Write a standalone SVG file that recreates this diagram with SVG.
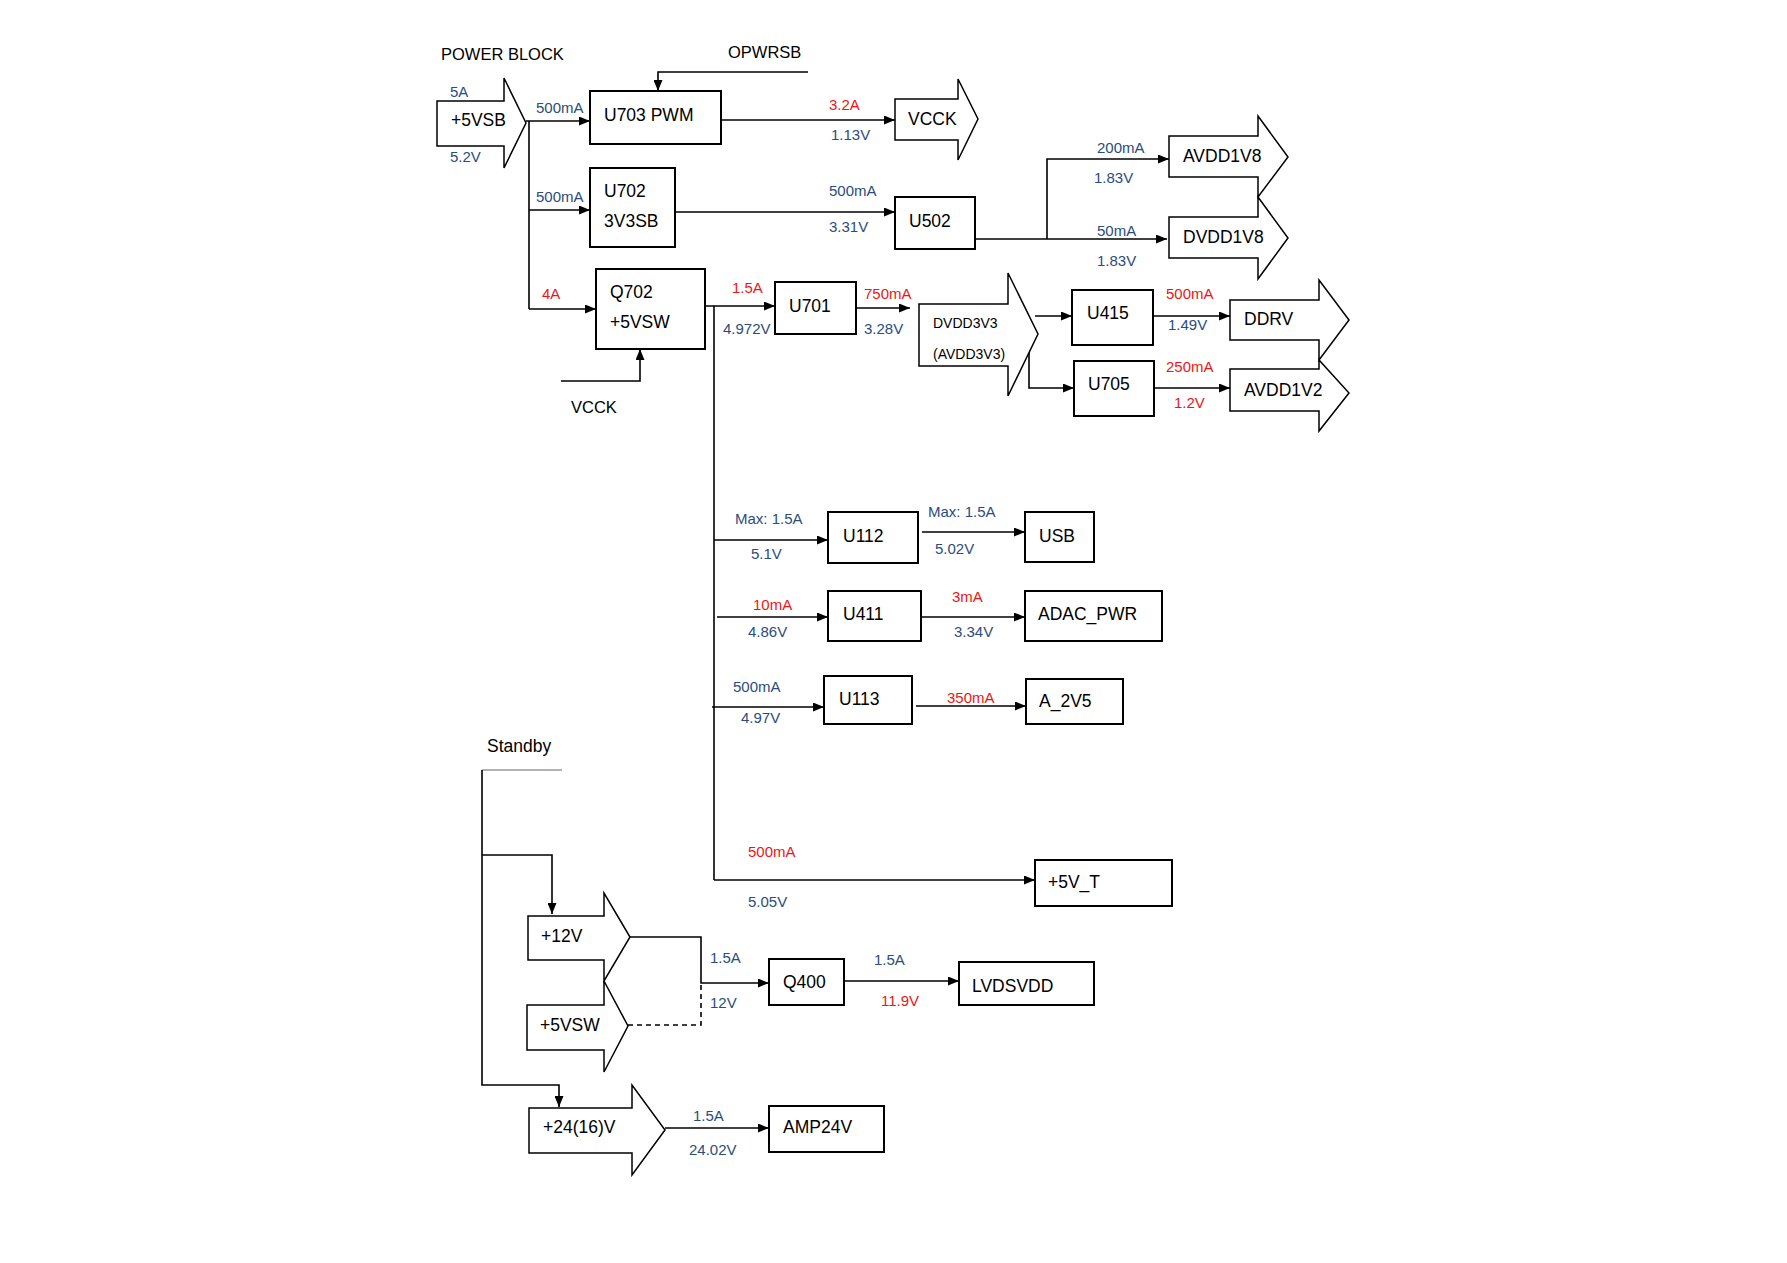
<svg xmlns="http://www.w3.org/2000/svg" width="1787" height="1263" viewBox="0 0 1787 1263">
<defs>
<marker id="ah" markerUnits="userSpaceOnUse" markerWidth="11" markerHeight="9" refX="11" refY="4.5" orient="auto"><path d="M0,0 L11,4.5 L0,9 z" fill="#000"/></marker>
<style>
.box{fill:#fff;stroke:#000;stroke-width:2}
.barrow{fill:#fff;stroke:#000;stroke-width:1.5;stroke-linejoin:miter}
.ln{fill:none;stroke:#000;stroke-width:1.6}
.arr{fill:none;stroke:#000;stroke-width:1.6;marker-end:url(#ah)}
.t{font-family:"Liberation Sans",Arial,sans-serif;font-size:17.5px;fill:#000}
.tm{font-family:"Liberation Sans",Arial,sans-serif;font-size:14px;fill:#000}
.b{font-family:"Liberation Sans",Arial,sans-serif;font-size:15px;fill:#2B4C7E}
.r{font-family:"Liberation Sans",Arial,sans-serif;font-size:15px;fill:#F01414}
</style>
</defs>
<rect width="1787" height="1263" fill="#fff"/>

<g id="titles">
<text class="t" x="441" y="60" style="font-size:16.5px">POWER BLOCK</text>
<text class="t" x="728" y="58" style="font-size:16.5px">OPWRSB</text>
<text class="t" x="571" y="413" style="font-size:16.5px">VCCK</text>
<text class="t" x="487" y="752">Standby</text>
</g>

<g id="connectors">
<polyline class="arr" points="808,72 658,72 658,91"/>
<line class="ln" x1="529" y1="121" x2="529" y2="309"/>
<line class="arr" x1="526" y1="121" x2="590" y2="121"/>
<line class="arr" x1="529" y1="210" x2="590" y2="210"/>
<line class="arr" x1="529" y1="309" x2="596" y2="309"/>
<line class="arr" x1="721" y1="120" x2="895" y2="120"/>
<line class="arr" x1="675" y1="212" x2="895" y2="212"/>
<line class="arr" x1="975" y1="239" x2="1167" y2="239"/>
<polyline class="arr" points="1047,239 1047,159 1169,159"/>
<polyline class="arr" points="561,381 640,381 640,349"/>
<line class="arr" x1="705" y1="306" x2="775" y2="306"/>
<line class="ln" x1="714" y1="306" x2="714" y2="880"/>
<line class="arr" x1="856" y1="308" x2="910" y2="308"/>
<line class="arr" x1="1035" y1="316" x2="1072" y2="316"/>
<polyline class="arr" points="1029,352 1029,388 1074,388"/>
<line class="arr" x1="1153" y1="316" x2="1230" y2="316"/>
<line class="arr" x1="1154" y1="388" x2="1230" y2="388"/>
<line class="arr" x1="714" y1="540" x2="828" y2="540"/>
<line class="arr" x1="922" y1="532" x2="1025" y2="532"/>
<line class="arr" x1="717" y1="617" x2="828" y2="617"/>
<line class="arr" x1="921" y1="617" x2="1025" y2="617"/>
<line class="arr" x1="712" y1="707" x2="824" y2="707"/>
<line class="arr" x1="916" y1="706" x2="1026" y2="706"/>
<line class="arr" x1="714" y1="880" x2="1035" y2="880"/>
<line x1="562" y1="770" x2="482" y2="770" stroke="#999" stroke-width="1.6"/>
<polyline class="arr" points="482,770 482,1085 559,1085 559,1107"/>
<polyline class="arr" points="482,855 552,855 552,914"/>
<polyline class="arr" points="630,937 701,937 701,983 769,983"/>
<polyline class="ln" points="628,1025 701,1025 701,983" stroke-dasharray="5,4"/>
<line class="arr" x1="844" y1="981" x2="959" y2="981"/>
<line class="arr" x1="665" y1="1128" x2="769" y2="1128"/>
</g>

<g id="n-5VSB"><polygon class="barrow" points="437,101 504,101 504,78 526,123 504,168 504,146 437,146"/><text class="t" x="451" y="126">+5VSB</text><text class="b" x="450" y="97">5A</text><text class="b" x="450" y="162">5.2V</text></g>
<g id="n-U703"><rect class="box" x="590" y="91" width="131" height="53"/><text class="t" x="604" y="121">U703 PWM</text><text class="b" x="536" y="113">500mA</text></g>
<g id="n-VCCK"><polygon class="barrow" points="895,99 958,99 958,79 978,119 958,160 958,140 895,140"/><text class="t" x="908" y="125">VCCK</text><text class="r" x="829" y="110">3.2A</text><text class="b" x="831" y="140">1.13V</text></g>
<g id="n-U702"><rect class="box" x="590" y="168" width="85" height="79"/><text class="t" x="604" y="197">U702</text><text class="t" x="604" y="227">3V3SB</text><text class="b" x="536" y="202">500mA</text></g>
<g id="n-U502"><rect class="box" x="895" y="197" width="80" height="52"/><text class="t" x="909" y="227">U502</text><text class="b" x="829" y="196">500mA</text><text class="b" x="829" y="232">3.31V</text></g>
<g id="n-AVDD1V8"><polygon class="barrow" points="1169,136 1258,136 1258,116 1288,157 1258,197 1258,177 1169,177"/><text class="t" x="1183" y="162">AVDD1V8</text><text class="b" x="1097" y="153">200mA</text><text class="b" x="1094" y="183">1.83V</text></g>
<g id="n-DVDD1V8"><polygon class="barrow" points="1169,217 1258,217 1258,197 1288,238 1258,279 1258,258 1169,258"/><text class="t" x="1183" y="243">DVDD1V8</text><text class="b" x="1097" y="236">50mA</text><text class="b" x="1097" y="266">1.83V</text></g>
<g id="n-Q702"><rect class="box" x="596" y="269" width="109" height="80"/><text class="t" x="610" y="298">Q702</text><text class="t" x="610" y="328">+5VSW</text><text class="r" x="542" y="299">4A</text></g>
<g id="n-U701"><rect class="box" x="775" y="282" width="81" height="52"/><text class="t" x="789" y="312">U701</text><text class="r" x="732" y="293">1.5A</text><text class="b" x="723" y="334">4.972V</text><text class="r" x="864" y="299">750mA</text><text class="b" x="864" y="334">3.28V</text></g>
<g id="n-DVDD3V3"><polygon class="barrow" points="919,304 1008,304 1008,273 1038,334 1008,396 1008,366 919,366"/><text class="tm" x="933" y="328">DVDD3V3</text><text class="tm" x="933" y="359">(AVDD3V3)</text></g>
<g id="n-U415"><rect class="box" x="1072" y="290" width="81" height="55"/><text class="t" x="1087" y="319">U415</text><text class="r" x="1166" y="299">500mA</text><text class="b" x="1168" y="330">1.49V</text></g>
<g id="n-DDRV"><polygon class="barrow" points="1230,300 1319,300 1319,280 1349,320 1319,360 1319,340 1230,340"/><text class="t" x="1244" y="325">DDRV</text></g>
<g id="n-U705"><rect class="box" x="1074" y="361" width="80" height="55"/><text class="t" x="1088" y="390">U705</text><text class="r" x="1166" y="372">250mA</text><text class="r" x="1174" y="408">1.2V</text></g>
<g id="n-AVDD1V2"><polygon class="barrow" points="1230,369 1319,369 1319,360 1349,393 1319,431 1319,411 1230,411"/><text class="t" x="1244" y="396">AVDD1V2</text></g>
<g id="n-U112"><rect class="box" x="828" y="512" width="90" height="51"/><text class="t" x="843" y="542">U112</text><text class="b" x="735" y="524">Max: 1.5A</text><text class="b" x="751" y="559">5.1V</text></g>
<g id="n-USB"><rect class="box" x="1025" y="512" width="69" height="50"/><text class="t" x="1039" y="542">USB</text><text class="b" x="928" y="517">Max: 1.5A</text><text class="b" x="935" y="554">5.02V</text></g>
<g id="n-U411"><rect class="box" x="828" y="591" width="93" height="50"/><text class="t" x="843" y="620">U411</text><text class="r" x="753" y="610">10mA</text><text class="b" x="748" y="637">4.86V</text></g>
<g id="n-ADAC_PWR"><rect class="box" x="1025" y="591" width="137" height="50"/><text class="t" x="1038" y="620">ADAC_PWR</text><text class="r" x="952" y="602">3mA</text><text class="b" x="954" y="637">3.34V</text></g>
<g id="n-U113"><rect class="box" x="824" y="676" width="88" height="48"/><text class="t" x="839" y="705">U113</text><text class="b" x="733" y="692">500mA</text><text class="b" x="741" y="723">4.97V</text></g>
<g id="n-A_2V5"><rect class="box" x="1026" y="679" width="97" height="45"/><text class="t" x="1039" y="707">A_2V5</text><text class="r" x="947" y="703">350mA</text></g>
<g id="n-5V_T"><rect class="box" x="1035" y="860" width="137" height="46"/><text class="t" x="1048" y="888">+5V_T</text><text class="r" x="748" y="857">500mA</text><text class="b" x="748" y="907">5.05V</text></g>
<g id="n-12V"><polygon class="barrow" points="528,916 604,916 604,893 630,937 604,981 604,960 528,960"/><text class="t" x="541" y="942">+12V</text></g>
<g id="n-5VSW"><polygon class="barrow" points="527,1005 604,1005 604,981 628,1026 604,1072 604,1050 527,1050"/><text class="t" x="540" y="1031">+5VSW</text></g>
<g id="n-Q400"><rect class="box" x="769" y="959" width="75" height="46"/><text class="t" x="783" y="988">Q400</text><text class="b" x="710" y="963">1.5A</text><text class="b" x="710" y="1008">12V</text></g>
<g id="n-LVDSVDD"><rect class="box" x="959" y="962" width="135" height="43"/><text class="t" x="972" y="992">LVDSVDD</text><text class="b" x="874" y="965">1.5A</text><text class="r" x="881" y="1006">11.9V</text></g>
<g id="n-24V"><polygon class="barrow" points="529,1108 632,1108 632,1085 665,1130 632,1175 632,1153 529,1153"/><text class="t" x="543" y="1133">+24(16)V</text></g>
<g id="n-AMP24V"><rect class="box" x="769" y="1106" width="115" height="46"/><text class="t" x="783" y="1133">AMP24V</text><text class="b" x="693" y="1121">1.5A</text><text class="b" x="689" y="1155">24.02V</text></g>
</svg>
